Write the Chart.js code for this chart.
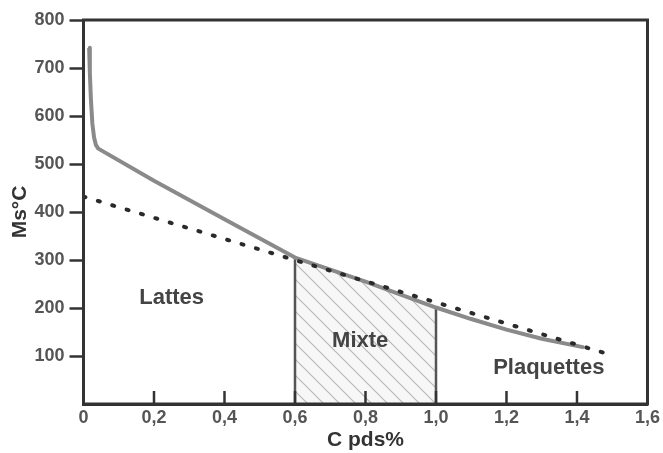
<!DOCTYPE html>
<html>
<head>
<meta charset="utf-8">
<script src="https://cdn.jsdelivr.net/npm/chart.js@4"></script>
<style>
    html, body { margin: 0; padding: 0; background: #fff; }
    #cadre { width: 663px; height: 453px; }
</style>
</head>
<body>
<div id="cadre"><canvas id="graphe"></canvas></div>
<script>
// courbe Ms (trait gris)
var courbeC = [0.016, 0.018, 0.021, 0.025, 0.03, 0.035, 0.042, 0.2, 0.4, 0.6, 0.7, 0.8, 0.9, 1.0, 1.1, 1.2, 1.3, 1.42];
var courbeMs = [742, 690, 635, 585, 555, 540, 532, 465, 385, 305, 280, 255, 228, 201, 177, 155, 136, 118];
// droite en pointillés
var droiteC = [0, 1.475];
var droiteMs = [432, 107];
// limites de la zone mixte
var bornesMixte = [0.6, 1.0];
var ticksX = [0, 0.2, 0.4, 0.6, 0.8, 1.0, 1.2, 1.4, 1.6];
var ticksY = [100, 200, 300, 400, 500, 600, 700, 800];
var zones = ['Lattes', 'Mixte', 'Plaquettes'];

var police = "'Liberation Sans', Arial, sans-serif";

function points(xs, ys) {
    return xs.map(function(x, i) { return {x: x, y: ys[i]}; });
}

// motif hachuré pour la zone mixte
function hachures() {
    var n = 16;
    var c = document.createElement('canvas');
    c.width = n; c.height = n;
    var g = c.getContext('2d');
    g.fillStyle = '#f7f7f7';
    g.fillRect(0, 0, n, n);
    g.strokeStyle = '#b8b8b8';
    g.lineWidth = 1.2;
    g.beginPath();
    g.moveTo(-2, -2); g.lineTo(n + 2, n + 2);
    g.moveTo(-2, n - 2); g.lineTo(2, n + 2);
    g.moveTo(n - 2, -2); g.lineTo(n + 2, 2);
    g.stroke();
    return g.createPattern(c, 'repeat');
}

var zoneMixte = points(courbeC, courbeMs).filter(function(p) {
    return p.x >= bornesMixte[0] && p.x <= bornesMixte[1];
});
var limites = bornesMixte.map(function(b) {
    var i = courbeC.indexOf(b);
    return [{x: b, y: 0}, {x: b, y: courbeMs[i]}];
});

var decor = {
    id: 'decor',
    afterDatasetsDraw: function(chart) {
        var ctx = chart.ctx, a = chart.chartArea;
        var sx = chart.scales.x, sy = chart.scales.y;
        ctx.save();
        ctx.strokeStyle = '#333';
        ctx.lineWidth = 2.5;
        // petits traits de l'axe x vers l'intérieur
        ticksX.forEach(function(v) {
            if (v === 0 || v === 1.6) return;
            var px = sx.getPixelForValue(v);
            ctx.beginPath();
            ctx.moveTo(px, a.bottom);
            ctx.lineTo(px, a.bottom - 13);
            ctx.stroke();
        });
        ctx.lineWidth = 3;
        ctx.strokeRect(a.left, a.top, a.right - a.left, a.bottom - a.top);

        ctx.fillStyle = '#444';
        ctx.font = 'bold 22px ' + police;
        ctx.textAlign = 'center';
        ctx.textBaseline = 'middle';
        ctx.fillText(zones[0], sx.getPixelForValue(0.25), sy.getPixelForValue(220));
        ctx.fillText(zones[1], sx.getPixelForValue(0.785), sy.getPixelForValue(131));
        ctx.fillText(zones[2], sx.getPixelForValue(1.32), sy.getPixelForValue(75));
        ctx.restore();
    }
};

new Chart(document.getElementById('graphe'), {
    type: 'scatter',
    data: {
        datasets: [{
            data: zoneMixte,
            showLine: true,
            fill: 'origin',
            backgroundColor: hachures(),
            borderWidth: 0,
            pointRadius: 0,
            order: 5
        }, {
            data: limites[0],
            showLine: true,
            borderColor: '#555',
            borderWidth: 2.5,
            pointRadius: 0,
            order: 4
        }, {
            data: limites[1],
            showLine: true,
            borderColor: '#555',
            borderWidth: 2.5,
            pointRadius: 0,
            order: 4
        }, {
            data: points(courbeC, courbeMs),
            showLine: true,
            borderColor: '#8a8a8a',
            borderWidth: 4,
            borderJoinStyle: 'round',
            pointRadius: 0,
            order: 2
        }, {
            data: points(droiteC, droiteMs),
            showLine: true,
            borderColor: '#2a2a2a',
            borderWidth: 4,
            borderDash: [2, 13],
            borderCapStyle: 'round',
            pointRadius: 0,
            order: 1
        }]
    },
    options: {
        responsive: true,
        maintainAspectRatio: false,
        animation: false,
        layout: { padding: { top: 20, right: 13, left: 0, bottom: 0 } },
        plugins: { legend: { display: false }, tooltip: { enabled: false } },
        scales: {
            x: {
                type: 'linear',
                min: 0,
                max: 1.6,
                afterBuildTicks: function(s) { s.ticks = ticksX.map(function(v) { return {value: v}; }); },
                afterFit: function(s) { s.height = 49; },
                border: { display: true, color: '#333', width: 3 },
                grid: { drawOnChartArea: false, drawTicks: false },
                ticks: {
                    padding: 3,
                    color: '#555',
                    font: { family: police, size: 18, weight: 'bold' },
                    callback: function(v) { return v === 0 ? '0' : v.toFixed(1).replace('.', ','); }
                },
                title: {
                    display: true,
                    text: 'C pds%',
                    color: '#333',
                    padding: { top: 0, bottom: 0 },
                    font: { family: police, size: 21, weight: 'bold' }
                }
            },
            y: {
                min: 0,
                max: 800,
                afterBuildTicks: function(s) { s.ticks = ticksY.map(function(v) { return {value: v}; }); },
                afterFit: function(s) { s.width = 83.5; },
                border: { display: true, color: '#333', width: 3 },
                grid: { drawOnChartArea: false, drawTicks: true, tickLength: 14, tickColor: '#333', tickWidth: 2.5 },
                ticks: {
                    padding: 5,
                    color: '#555',
                    font: { family: police, size: 18, weight: 'bold' }
                },
                title: {
                    display: true,
                    text: 'Ms°C',
                    color: '#333',
                    padding: { top: 8, bottom: 0 },
                    font: { family: police, size: 21, weight: 'bold' }
                }
            }
        }
    },
    plugins: [decor]
});
</script>
</body>
</html>
